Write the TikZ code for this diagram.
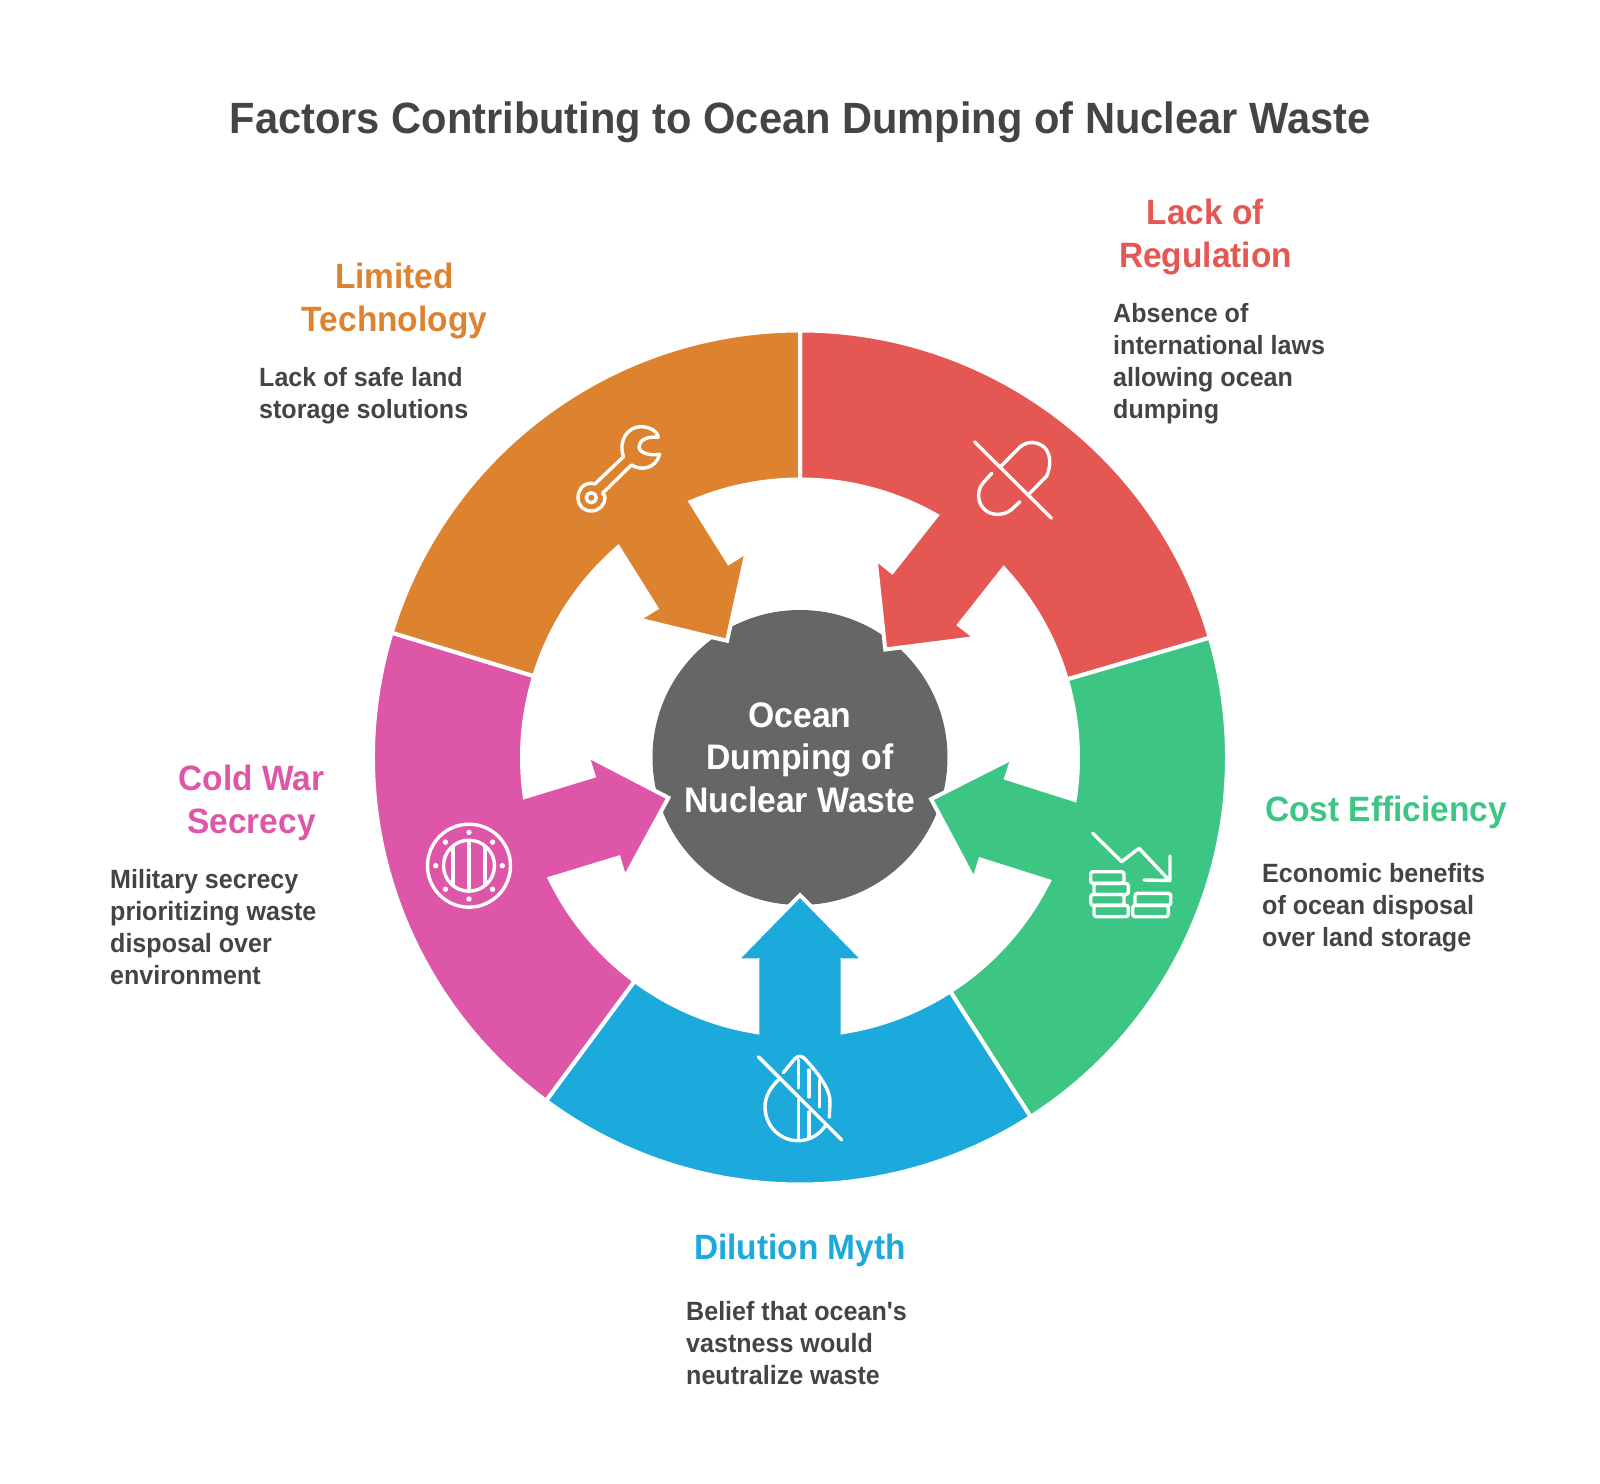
\documentclass[tikz,border=0pt]{standalone}
\usepackage{fontspec}
\setmainfont{Liberation Sans}[FakeStretch=0.95,Ligatures=TeXOff]
\definecolor{inkgray}{HTML}{444444}
\definecolor{hubgray}{HTML}{666666}
\definecolor{regred}{HTML}{E55753}
\definecolor{costgreen}{HTML}{3DC583}
\definecolor{mythblue}{HTML}{1CA9DB}
\definecolor{warpink}{HTML}{DE56A7}
\definecolor{techorange}{HTML}{DD822E}
\tikzset{
  pagepx/.style={shift={(-800pt,757.5pt)},x=1pt,y=-1pt},
  sector/.style={draw=white,line width=4pt,miter limit=10},
  icon/.style={draw=white,line width=3.4pt,line cap=round,line join=round},
  titlelabel/.style={font=\bfseries\fontsize{43.8}{48}\selectfont,text=inkgray,inner sep=0pt},
  headlabel/.style={font=\bfseries\fontsize{35.2}{42.7}\selectfont,align=center,inner sep=0pt},
  desclabel/.style={font=\bfseries\fontsize{26.4}{32}\selectfont,text=inkgray,align=left,anchor=west,inner sep=0pt},
}
\begin{document}
\begin{tikzpicture}[x=1pt,y=1pt]
      \useasboundingbox (-800,-725.5) rectangle (800,757.5);
      \node[circle,fill=hubgray,minimum size=295pt,inner sep=0pt,text=white,align=center,
        font=\bfseries\fontsize{35.5}{42.7}\selectfont] (hub) at (0,0) {Ocean\\Dumping of\\Nuclear Waste};

      \foreach \col/\lo/\hi/\ax in {regred/16.3/90/51.7, costgreen/-57.3/16.3/-17.6, mythblue/-126.5/-57.3/-90,
        warpink/163/233.5/197, techorange/90/163/122} {
        \path[sector,fill=\col] (\lo:427pt) arc[start angle=\lo,end angle=\hi,radius=427pt]
          -- (\hi:278pt) arc[start angle=\hi,end angle=\ax+8.83,radius=278pt]
          -- (\ax+11.89:207.2pt) -- (\ax+17.5:212.7pt) -- (\ax:137.6pt)
          -- (\ax-17.5:212.7pt) -- (\ax-11.89:207.2pt) -- (\ax-8.83:278pt)
          arc[start angle=\ax-8.83,end angle=\lo,radius=278pt] -- cycle;
      }

      \begin{scope}[pagepx]
      \node[titlelabel] (title) at (800,122) {Factors Contributing to Ocean Dumping of Nuclear Waste};

      \node[headlabel,text=regred] (reghead) at (1205.5,237) {Lack of\\Regulation};
      \node[desclabel] (regdesc) at (1113,363.6) {Absence of\\international laws\\allowing ocean\\dumping};
      \node[headlabel,text=costgreen] (costhead) at (1386,812) {Cost Efficiency};
      \node[desclabel] (costdesc) at (1262,908) {Economic benefits\\of ocean disposal\\over land storage};
      \node[headlabel,text=mythblue] (mythhead) at (800,1250) {Dilution Myth};
      \node[desclabel] (mythdesc) at (686,1343) {Belief that ocean's\\vastness would\\neutralize waste};
      \node[headlabel,text=warpink] (warhead) at (251.5,803) {Cold War\\Secrecy};
      \node[desclabel] (wardesc) at (110,927.5) {Military secrecy\\prioritizing waste\\disposal over\\environment};
      \node[headlabel,text=techorange] (techhead) at (394.5,301) {Limited\\Technology};
      \node[desclabel] (techdesc) at (259,395.8) {Lack of safe land\\storage solutions};

      % wrench
      \draw[icon] (591.3,497.7) circle (5);
      \draw[icon] (594.9,484) .. controls (586,481) and (578,488) .. (578,497.7)
        .. controls (578,506) and (584,511) .. (591.3,511) .. controls (599,511) and (605,505) .. (605,497.7)
        .. controls (605,496) and (604,494.5) .. (602.5,493.3) -- (631.5,465)
        .. controls (640,470.5) and (655,470) .. (659.6,454.3) .. controls (650,456) and (639,453) .. (639,446.7)
        .. controls (639,440) and (648,436) .. (658.3,437.3) .. controls (657,430) and (648,426.7) .. (640.4,426.7)
        .. controls (628,427) and (618,440) .. (623.5,456.7) -- cycle;

      % pill
      \draw[icon] (974.5,441.8) -- (1051.5,518.2);
      \draw[icon] (1001.2,466) -- (1020,447) .. controls (1028,440) and (1039,442) .. (1045,448)
        .. controls (1051,455) and (1051,466) .. (1046.7,476) -- (1029.7,493.3);
      \draw[icon] (991.8,473.3) -- (983,483) .. controls (977,490) and (977,502) .. (984,509)
        .. controls (991,516) and (1003,516) .. (1011,510) -- (1020,501.7);

      % chart and coins
      \draw[icon] (1092.7,833.3) -- (1121.7,861.7) -- (1139,848.3) -- (1168.3,879.3);
      \draw[icon] (1170,856) -- (1170,880.5) -- (1144,880);
      \foreach \xa/\ya/\xb/\yb in {1090.7/871.7/1124/883.3, 1094/883.3/1128.3/894.5, 1090.7/894.5/1124/905.3,
        1094/905.3/1128.3/916.7, 1135/893.3/1170.7/905.3, 1132.7/905.3/1168.3/916.7}
        \draw[icon,rounded corners=2.5pt] (\xa,\ya) rectangle (\xb,\yb);

      % drop
      \draw[icon] (758.3,1056.7) -- (841.7,1140);
      \draw[icon] (783.3,1072.7) -- (795,1058.5) .. controls (798,1055.5) and (802,1055.5) .. (805,1059)
        .. controls (818,1073) and (831,1090) .. (830,1103) -- (829.3,1117.3);
      \draw[icon] (778.3,1080) .. controls (770,1088) and (765,1097) .. (765,1106.7)
        .. controls (765,1126) and (780,1140.7) .. (798.3,1140.7) .. controls (810,1140.7) and (820,1134) .. (826,1125);
      \foreach \xa/\ya/\yb in {798.3/1060/1088, 798.3/1100/1138, 809/1070/1097, 809/1112/1137, 819.3/1080/1107}
        \draw[icon] (\xa,\ya) -- (\xa,\yb);

      % porthole
      \draw[icon] (469,865.7) circle (41.5);
      \draw[icon] (469,865.7) circle (25.5);
      \draw[icon] (469,843) -- (469,888.5);
      \draw[icon] (453,846) -- (453,885.5);
      \draw[icon] (485,846) -- (485,885.5);
      \foreach \a in {0,45,...,315}
        \fill[white] (469,865.7) ++(\a:33.3) circle (2.7);
      \end{scope}
    \end{tikzpicture}
\end{document}
